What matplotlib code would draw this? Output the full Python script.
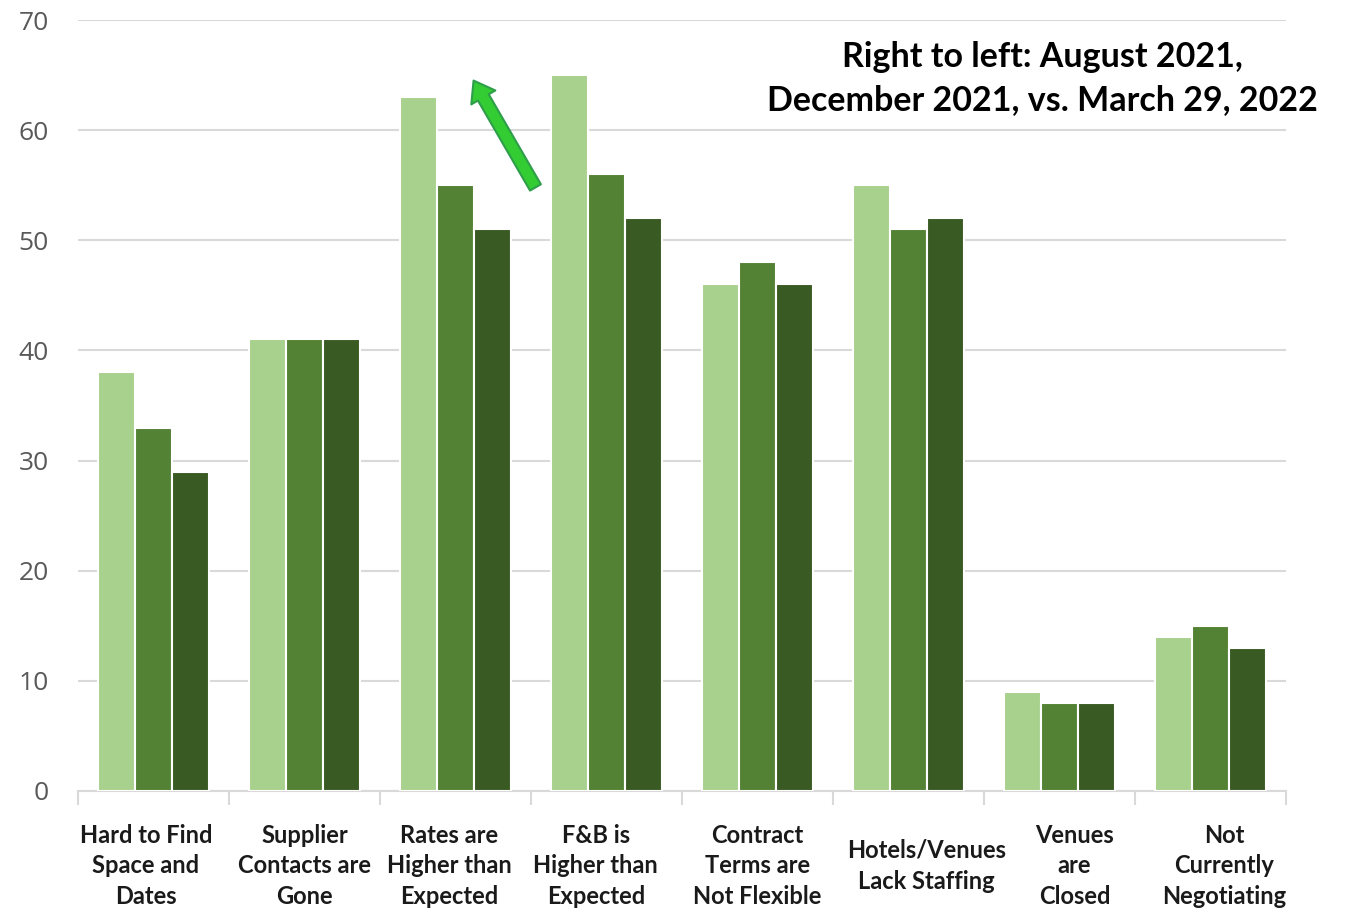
import matplotlib
matplotlib.use("Agg")
import matplotlib.pyplot as plt
import numpy as np

categories = ["Hard to Find\nSpace and\nDates", "Supplier\nContacts are\nGone",
              "Rates are\nHigher than\nExpected", "F&B is\nHigher than\nExpected",
              "Contract\nTerms are\nNot Flexible", "Hotels/Venues\nLack Staffing",
              "Venues\nare\nClosed", "Not\nCurrently\nNegotiating"]
aug_2021 = [38, 41, 63, 65, 46, 55, 9, 14]
dec_2021 = [33, 41, 55, 56, 48, 51, 8, 15]
mar_2022 = [29, 41, 51, 52, 46, 52, 8, 13]
series = [aug_2021, dec_2021, mar_2022]
colors = ["#a9d18e", "#548235", "#3a5a24"]

fig = plt.figure(figsize=(13.45, 9.14), dpi=100)
ax = fig.add_axes([0.058, 0.1346, 0.898, 0.8435])

x = np.arange(len(categories))
w = 0.245
for k, vals in enumerate(series):
    ax.bar(x + (k - 1) * w, vals, width=w, color=colors[k],
           edgecolor="white", linewidth=1.5, zorder=3)

ax.set_xlim(-0.5, len(categories) - 0.5)
ax.set_ylim(0, 70)
ax.set_yticks(range(0, 71, 10))
ax.yaxis.grid(True, color="#d9d9d9", linewidth=1.5, zorder=0)
ax.tick_params(axis="y", length=0, pad=21, labelsize=19, labelcolor="#595959")
for lab in ax.get_yticklabels():
    lab.set_family("Open Sans")

for s in ["top", "right", "left"]:
    ax.spines[s].set_visible(False)
ax.spines["bottom"].set_color("#d9d9d9")
ax.spines["bottom"].set_linewidth(1.5)

# tick marks at category boundaries
ax.set_xticks(np.arange(-0.5, len(categories), 1.0))
ax.set_xticklabels([])
ax.tick_params(axis="x", length=10, width=1.5, color="#d9d9d9")

# labels in the original sit a little off-centre
shift = [-0.05, 0, -0.04, -0.07, 0, 0.12, 0.1, 0.09]
for i, c in enumerate(categories):
    ax.text(i + shift[i], -0.097, c, transform=ax.get_xaxis_transform(), ha="center",
            va="center", fontsize=17, fontfamily="Lato", fontweight="bold",
            color="#1a1a1a", linespacing=1.4)

ax.text(5.89, 64.7, "Right to left: August 2021,\nDecember 2021, vs. March 29, 2022",
        ha="center", va="center", fontsize=24.5, fontfamily="Lato",
        fontweight="bold", color="black", linespacing=1.45)

ax.annotate("", xy=(2.12, 64.5), xytext=(2.53, 54.8),
            arrowprops=dict(width=9, headwidth=20, headlength=14,
                            facecolor="#33cc33", edgecolor="#2e9e4a",
                            linewidth=1.5), zorder=5)

fig.savefig("out.png", dpi=100)
